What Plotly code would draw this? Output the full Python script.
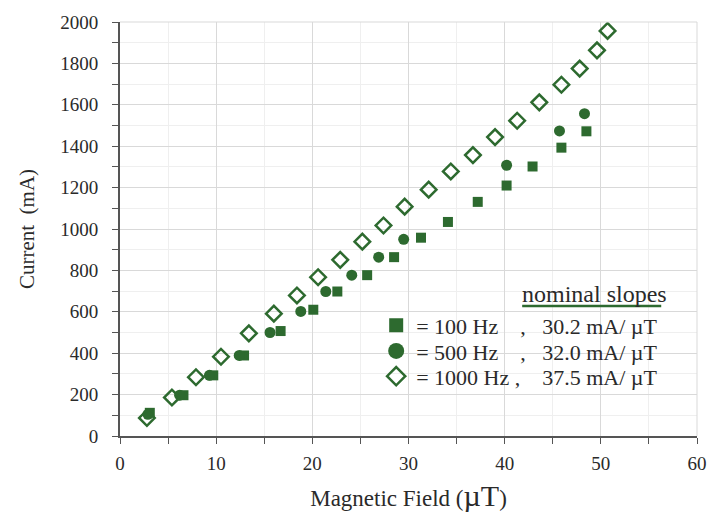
import plotly.graph_objects as go

GREEN = "#2d6a2f"
FONT = "Liberation Serif, Times New Roman, serif"
TXT = "#2a2a2a"

# 100 Hz (squares)
b100 = [3.1, 6.6, 9.7, 12.9, 16.7, 20.1, 22.6, 25.7, 28.5, 31.3, 34.1, 37.2, 40.2, 42.9, 45.9, 48.5]
i100 = [112, 197, 293, 389, 507, 610, 698, 777, 864, 958, 1034, 1131, 1210, 1302, 1393, 1472]
# 500 Hz (circles)
b500 = [2.9, 6.2, 9.3, 12.4, 15.6, 18.8, 21.4, 24.1, 26.9, 29.5, 40.2, 45.7, 48.3]
i500 = [105, 197, 293, 389, 500, 602, 698, 777, 864, 950, 1308, 1474, 1557]
# 1000 Hz (open diamonds)
b1000 = [2.8, 5.4, 7.9, 10.5, 13.4, 16.0, 18.4, 20.6, 22.9, 25.2, 27.4, 29.6, 32.1, 34.4,
         36.7, 39.0, 41.3, 43.6, 45.9, 47.8, 49.6, 50.7]
i1000 = [87, 186, 284, 383, 496, 591, 679, 767, 851, 939, 1017, 1108, 1190, 1278,
         1357, 1444, 1523, 1612, 1697, 1775, 1863, 1957]

NB = "\u00a0"
names = ["=" + NB + "100 Hz" + NB * 4 + "," + NB * 3 + "30.2 mA/ \u00b5T",
         "=" + NB + "500 Hz" + NB * 4 + "," + NB * 3 + "32.0 mA/ \u00b5T",
         "=" + NB + "1000 Hz" + NB + "," + NB * 4 + "37.5 mA/ \u00b5T"]
legend_title = "nominal slopes"

fig = go.Figure()
# data marks
fig.add_trace(go.Scatter(x=b100, y=i100, mode="markers", showlegend=False,
                         marker=dict(symbol="square", size=10, color=GREEN)))
fig.add_trace(go.Scatter(x=b500, y=i500, mode="markers", showlegend=False,
                         marker=dict(symbol="circle", size=11, color=GREEN)))
fig.add_trace(go.Scatter(x=b1000, y=i1000, mode="markers", showlegend=False,
                         marker=dict(symbol="diamond-open", size=12, color=GREEN,
                                     line=dict(width=2.5, color=GREEN))))
# legend keys (no data, larger symbols)
leg_syms = [dict(symbol="square", size=14, color=GREEN),
            dict(symbol="circle", size=16, color=GREEN),
            dict(symbol="diamond-open", size=14, color=GREEN, line=dict(width=2.5, color=GREEN))]
leg_ids = ["legend", "legend2", "legend3"]
for nm, sym, lid in zip(names, leg_syms, leg_ids):
    fig.add_trace(go.Scatter(x=[None], y=[None], mode="markers", name=nm,
                             marker=sym, legend=lid, showlegend=True))

leg_common = dict(x=0.444, xanchor="left", yanchor="middle",
                  font=dict(family=FONT, size=22, color=TXT),
                  bgcolor="rgba(0,0,0,0)", itemsizing="trace", itemwidth=30,
                  borderwidth=0)

fig.update_layout(
    width=719, height=525,
    margin=dict(l=120, r=22, t=12, b=89),
    paper_bgcolor="white", plot_bgcolor="white",
    font=dict(family=FONT, size=19, color=TXT),
    legend=dict(y=0.267, **leg_common),
    legend2=dict(y=0.205, **leg_common),
    legend3=dict(y=0.144, **leg_common),
)
fig.update_xaxes(
    range=[0, 60], dtick=10, tick0=0,
    showgrid=True, gridcolor="#d9d9d9", gridwidth=1,
    ticks="outside", ticklen=6, tickcolor="#555",
    showline=True, linecolor="#555", linewidth=1.5,
    minor=dict(dtick=5, showgrid=True, gridcolor="#efefef", ticks="outside",
               ticklen=6, tickcolor="#555"),
    zeroline=False,
    ticklabelstandoff=3,
    tickfont=dict(family=FONT, size=19, color=TXT),
    title=dict(text="Magnetic Field (<span style='font-size:30px'>\u00b5T</span>)",
               font=dict(family=FONT, size=23, color=TXT), standoff=17),
)
fig.update_yaxes(
    range=[0, 2000], dtick=200, tick0=0,
    showgrid=True, gridcolor="#d9d9d9", gridwidth=1,
    ticks="outside", ticklen=6, tickcolor="#555",
    showline=True, linecolor="#555", linewidth=2,
    minor=dict(dtick=100, showgrid=True, gridcolor="#efefef", ticks="outside",
               ticklen=6, tickcolor="#555"),
    zeroline=False,
    ticklabelstandoff=10,
    tickfont=dict(family=FONT, size=19, color=TXT),
    title=dict(text="Current" + NB * 2 + "(mA)", font=dict(family=FONT, size=21, color=TXT),
               standoff=20),
)
# top/right border
fig.add_shape(type="line", xref="paper", yref="paper", x0=0, x1=1, y0=1, y1=1,
              line=dict(color="#d9d9d9", width=1))
fig.add_shape(type="line", xref="paper", yref="paper", x0=1, x1=1, y0=0, y1=1,
              line=dict(color="#d9d9d9", width=1))

fig.add_annotation(text=legend_title, xref="paper", yref="paper", x=0.823, y=0.342,
                   showarrow=False, font=dict(family=FONT, size=24, color=TXT),
                   xanchor="center", yanchor="middle")
fig.add_shape(type="line", xref="paper", yref="paper", x0=0.697, x1=0.938, y0=0.314, y1=0.314,
              line=dict(color=GREEN, width=2.5))

fig.write_html("out.html", config={"displayModeBar": False},
               post_script="document.body.style.margin='0';")
